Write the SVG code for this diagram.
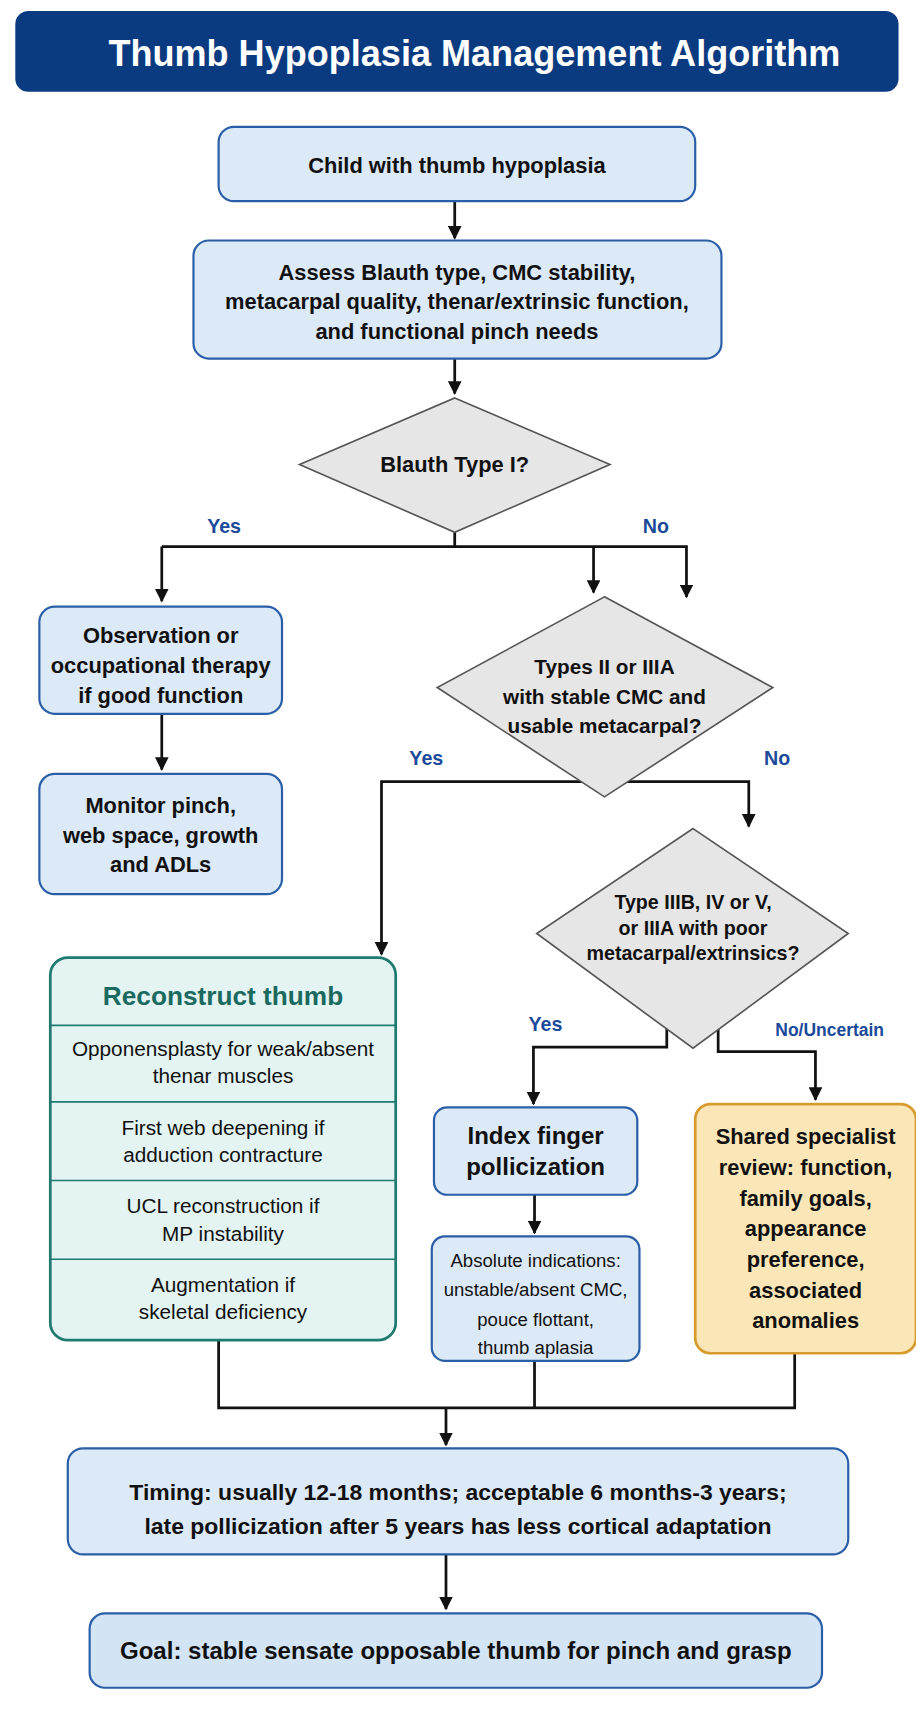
<svg xmlns="http://www.w3.org/2000/svg" width="916" height="1717" viewBox="0 0 916 1717">
<style>
text{font-family:"Liberation Sans",Arial,sans-serif;fill:#111;text-anchor:middle}
.b{font-weight:bold;font-size:20px}
.r{font-size:19px}
.s{font-size:17px}
.lbl{font-weight:bold;font-size:18px;fill:#1a4a9a;text-anchor:middle}
.box{fill:#dce9f7;stroke:#2a5fa8;stroke-width:2}
.dia{fill:#e6e6e6;stroke:#555;stroke-width:1.5}
.ln{fill:none;stroke:#111;stroke-width:2.5}
</style>
<defs><marker id="ar" viewBox="0 0 10 10" refX="9" refY="5" markerWidth="5" markerHeight="5" orient="auto"><path d="M0,0L10,5L0,10z" fill="#111"/></marker></defs>
<rect width="916" height="1717" fill="#fff"/>
<g transform="scale(1.0931)">
<g id="title"><rect x="14" y="10" width="808" height="74" rx="12" fill="#0a3a80"/><text x="434" y="60" style="font-size:33px;font-weight:bold;fill:#fff">Thumb Hypoplasia Management Algorithm</text></g>
<g id="connectors">
<path class="ln" d="M416,184V218" marker-end="url(#ar)"/>
<path class="ln" d="M416,328V360" marker-end="url(#ar)"/>
<path class="ln" d="M416,487V500H148"/>
<path class="ln" d="M148,500V550" marker-end="url(#ar)"/>
<path class="ln" d="M416,500H628V546" marker-end="url(#ar)"/>
<path class="ln" d="M543,500V542" marker-end="url(#ar)"/>
<path class="ln" d="M148,653V704" marker-end="url(#ar)"/>
<path class="ln" d="M553,715H349V873" marker-end="url(#ar)"/>
<path class="ln" d="M553,715H685V756" marker-end="url(#ar)"/>
<path class="ln" d="M610,940V958H488V1010" marker-end="url(#ar)"/>
<path class="ln" d="M657,940V962H746V1006" marker-end="url(#ar)"/>
<path class="ln" d="M489,1093V1128" marker-end="url(#ar)"/>
<path class="ln" d="M200,1226V1288H727V1238M489,1245V1288"/>
<path class="ln" d="M408,1288V1322" marker-end="url(#ar)"/>
<path class="ln" d="M408,1422V1472" marker-end="url(#ar)"/>
<text class="lbl" x="205" y="488">Yes</text><text class="lbl" x="600" y="488">No</text>
<text class="lbl" x="390" y="700">Yes</text><text class="lbl" x="711" y="700">No</text>
<text class="lbl" x="499" y="943">Yes</text><text class="lbl" x="759" y="948" style="font-size:16px">No/Uncertain</text>
</g>
<g id="n1"><rect class="box" x="200" y="116" width="436" height="68" rx="14"/><text class="b" x="418" y="158">Child with thumb hypoplasia</text></g>
<g id="n2"><rect class="box" x="177" y="220" width="483" height="108" rx="14"/><text class="b" x="418" y="256">Assess Blauth type, CMC stability,</text><text class="b" x="418" y="283">metacarpal quality, thenar/extrinsic function,</text><text class="b" x="418" y="310">and functional pinch needs</text></g>
<g id="d1"><polygon class="dia" points="416,364 558,425 416,487 274,425"/><text class="b" x="416" y="432">Blauth Type I?</text></g>
<g id="n3"><rect class="box" x="36" y="555" width="222" height="98" rx="14"/><text class="b" x="147" y="588">Observation or</text><text class="b" x="147" y="616">occupational therapy</text><text class="b" x="147" y="643">if good function</text></g>
<g id="n4"><rect class="box" x="36" y="708" width="222" height="110" rx="14"/><text class="b" x="147" y="744">Monitor pinch,</text><text class="b" x="147" y="771">web space, growth</text><text class="b" x="147" y="798">and ADLs</text></g>
<g id="d2"><polygon class="dia" points="553,546 707,629 553,729 400,629"/><text class="b" x="553" y="617" style="font-size:19px">Types II or IIIA</text><text class="b" x="553" y="644" style="font-size:19px">with stable CMC and</text><text class="b" x="553" y="671" style="font-size:19px">usable metacarpal?</text></g>
<g id="d3"><polygon class="dia" points="634,758 776,854 634,959 491,854"/><text class="b" x="634" y="832" style="font-size:18px">Type IIIB, IV or V,</text><text class="b" x="634" y="855" style="font-size:18px">or IIIA with poor</text><text class="b" x="634" y="878" style="font-size:18px">metacarpal/extrinsics?</text></g>
<g id="n5"><rect x="46" y="876" width="316" height="350" rx="16" fill="#e3f4f2" stroke="#1f7a70" stroke-width="2.5"/>
<path d="M46,938H362M46,1008H362M46,1080H362M46,1152H362" stroke="#1f7a70" stroke-width="1.5"/>
<text x="204" y="919" style="font-size:24px;font-weight:bold;fill:#1a6a60">Reconstruct thumb</text>
<text class="r" x="204" y="966">Opponensplasty for weak/absent</text><text class="r" x="204" y="991">thenar muscles</text>
<text class="r" x="204" y="1038">First web deepening if</text><text class="r" x="204" y="1063">adduction contracture</text>
<text class="r" x="204" y="1110">UCL reconstruction if</text><text class="r" x="204" y="1135">MP instability</text>
<text class="r" x="204" y="1182">Augmentation if</text><text class="r" x="204" y="1207">skeletal deficiency</text></g>
<g id="n6"><rect class="box" x="397" y="1013" width="186" height="80" rx="12"/><text class="b" x="490" y="1047" style="font-size:22px">Index finger</text><text class="b" x="490" y="1075" style="font-size:22px">pollicization</text></g>
<g id="n7"><rect class="box" x="395" y="1131" width="190" height="114" rx="12"/><text class="s" x="490" y="1159">Absolute indications:</text><text class="s" x="490" y="1186">unstable/absent CMC,</text><text class="s" x="490" y="1213">pouce flottant,</text><text class="s" x="490" y="1239">thumb aplasia</text></g>
<g id="n8"><rect x="636" y="1010" width="202" height="228" rx="14" fill="#fbe6b8" stroke="#d79a2d" stroke-width="2.5"/>
<text class="b" x="737" y="1047">Shared specialist</text><text class="b" x="737" y="1075">review: function,</text><text class="b" x="737" y="1103">family goals,</text><text class="b" x="737" y="1131">appearance</text><text class="b" x="737" y="1159">preference,</text><text class="b" x="737" y="1187">associated</text><text class="b" x="737" y="1215">anomalies</text></g>
<g id="n9"><rect class="box" x="62" y="1325" width="714" height="97" rx="14"/><text class="b" x="419" y="1372" style="font-size:21px">Timing: usually 12-18 months; acceptable 6 months-3 years;</text><text class="b" x="419" y="1403" style="font-size:21px">late pollicization after 5 years has less cortical adaptation</text></g>
<g id="n10"><rect x="82" y="1476" width="670" height="68" rx="14" fill="#d3e4f5" stroke="#2a5fa8" stroke-width="2"/><text class="b" x="417" y="1518" style="font-size:22px">Goal: stable sensate opposable thumb for pinch and grasp</text></g>
</g>
</svg>
